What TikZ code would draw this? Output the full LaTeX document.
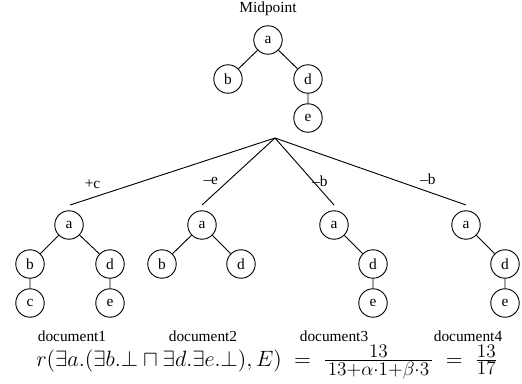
\documentclass[tikz,border=0pt]{standalone}
\usepackage[no-math]{fontspec}
\setmainfont{Liberation Serif}
\usepackage{amssymb}
\usepackage{amsmath}
\usepackage{fix-cm}
\newcommand{\smallpart}[1]{\mbox{\fontsize{12.5}{15}\selectfont$#1$}}

\begin{document}
\begin{tikzpicture}[x=0.65pt,y=-0.65pt,semithick,
  vertex/.style={circle,draw,minimum size=18.5pt,inner sep=0pt}]
\useasboundingbox (0,0) rectangle (522,383);

% midpoint tree
\node (mid) at (268,9) {Midpoint};
\node[vertex] (ma) at (268,40) {a};
\node[vertex] (mb) at (228,79) {b};
\node[vertex] (md) at (308,79) {d};
\node[vertex] (me) at (308,118) {e};
\draw (ma) -- (mb)  (ma) -- (md)  (md) -- (me);

\coordinate (hub) at (275,138);
\coordinate (top1) at (70,205);
\coordinate (top2) at (202,205);
\coordinate (top3) at (334,205);
\coordinate (top4) at (466,205);
\draw (hub) -- node[pos=0.89,above=2pt] {+c} (top1);
\draw (hub) -- node[pos=0.64,left=3pt] {--e} (top2);
\draw (hub) -- node[pos=0.64,right=-4pt] {--b} (top3);
\draw (hub) -- node[pos=0.80,above=1pt] {--b} (top4);

% document1
\node[vertex] (a1) at (69,225) {a};
\node[vertex] (b1) at (30,264) {b};
\node[vertex] (d1) at (110,264) {d};
\node[vertex] (c1) at (30,303) {c};
\node[vertex] (e1) at (110,303) {e};
\draw (a1) -- (b1)  (a1) -- (d1)  (b1) -- (c1)  (d1) -- (e1);

% document2
\node[vertex] (a2) at (202,225) {a};
\node[vertex] (b2) at (162,264) {b};
\node[vertex] (d2) at (241,264) {d};
\draw (a2) -- (b2)  (a2) -- (d2);

% document3
\node[vertex] (a3) at (334,225) {a};
\node[vertex] (d3) at (373,264) {d};
\node[vertex] (e3) at (373,303) {e};
\draw (a3) -- (d3)  (d3) -- (e3);

% document4
\node[vertex] (a4) at (466,225) {a};
\node[vertex] (d4) at (505,264) {d};
\node[vertex] (e4) at (505,303) {e};
\draw (a4) -- (d4)  (d4) -- (e4);

\node[anchor=base,inner sep=1pt] (doc1) at (72,341) {document1};
\node[anchor=base,inner sep=1pt] (doc2) at (203,341) {document2};
\node[anchor=base,inner sep=1pt] (doc3) at (334,341) {document3};
\node[anchor=base,inner sep=1pt] (doc4) at (468,341) {document4};

\node[anchor=base,inner sep=1pt] (rank) at (267,366) {\Large $r(\exists a.(\exists b.\bot \sqcap \exists d.\exists e.\bot),E) \;=\; \frac{\smallpart{13}}{\,\smallpart{13{+}\alpha{\cdot}1{+}\beta{\cdot}3}\,} \;=\; \frac{\smallpart{13}}{\smallpart{17}}$};
\end{tikzpicture}
\end{document}
